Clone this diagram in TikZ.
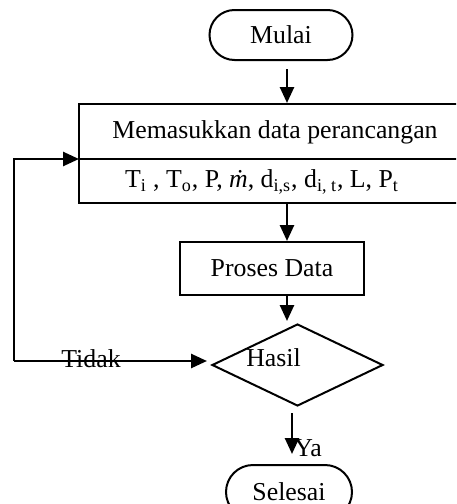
\documentclass[tikz,border=0pt]{standalone}
\usepackage{fontspec}
\setmainfont{Liberation Serif}
\usetikzlibrary{shapes.geometric,shapes.misc,arrows.meta}

\begin{document}
\begin{tikzpicture}[x=0.5pt,y=-0.5pt,
  font=\fontsize{12.9}{15}\selectfont,
  terminal/.style={draw,rounded rectangle,line width=1pt,minimum width=71.5pt,minimum height=25pt,inner sep=0pt},
  kotak/.style={draw,rectangle,line width=1pt,inner sep=0pt},
  putusan/.style={draw,diamond,line width=1pt,inner sep=0pt,minimum width=85.5pt,minimum height=41pt},
  panah/.style={line width=1.3pt,-{Triangle[length=8pt,width=7pt]}}]
  \useasboundingbox (0,0) rectangle (456,504);
  \clip (0,0) rectangle (456,504);
  % simpul
  \node[terminal] (mulai) at (281,35) {Mulai};
  \node[kotak,minimum width=192pt,minimum height=49.5pt] (masuk) at (271,153.5) {};
  \node (judul) at (275,132) {Memasukkan data perancangan};
  \node (param) at (262,182) {T\textsubscript{i} , T\textsubscript{o}, P, \textit{\.m}, d\textsubscript{i,s}, d\textsubscript{i, t}, L, P\textsubscript{t}};
  \coordinate (sekat) at (79,159);
  \draw[line width=1pt] (sekat) -- (sekat -| masuk.east);
  \node[kotak,minimum width=92pt,minimum height=26.5pt] (proses) at (272,268.5) {Proses Data};
  \node[putusan,label={[xshift=-12pt,yshift=3.5pt]center:Hasil}] (hasil) at (297.5,365) {};
  \node[terminal,minimum width=63pt,minimum height=27pt] (selesai) at (289,492) {Selesai};
  \node (tidak) at (91,359) {Tidak};
  \node (ya) at (308,448) {Ya};
  \coordinate (sudut) at (14,361);
  % panah
  \draw[panah,shorten <=4pt] ([xshift=3pt]mulai.south) -- ([xshift=3pt]mulai.south |- masuk.north);
  \draw[panah] ([xshift=7.5pt]proses.north |- masuk.south) -- ([xshift=7.5pt]proses.north);
  \draw[panah] ([xshift=7.5pt]proses.south) -- ++(0,25);
  \draw[panah,shorten <=3pt,shorten >=5pt] ([xshift=-2.75pt]hasil.south) -- ([xshift=-2.75pt]hasil.south |- selesai.north);
  \draw[panah,shorten >=2pt] (sudut) -- (sudut -| hasil.west);
  \draw[panah] (sudut) |- (sekat);
\end{tikzpicture}
\end{document}
